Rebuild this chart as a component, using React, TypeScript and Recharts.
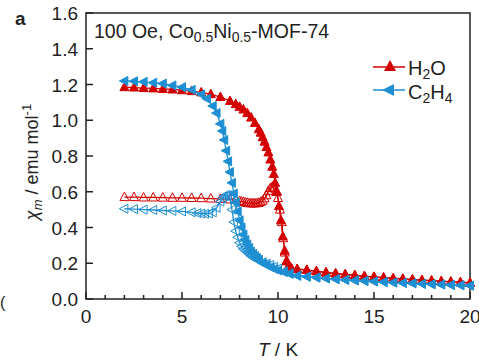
import {
  ComposedChart,
  XAxis,
  YAxis,
  Scatter,
  ReferenceArea,
} from "recharts";

// chart geometry
const W = 479;
const H = 361;
const LEFT = 86;
const TOP = 13;
const RIGHT = 9;
const BOTTOM = 62;
const PLOT_BOTTOM = H - BOTTOM;

const RED = "#d40000";
const BLUE = "#1e8fd2";
const INK = "#222";
const FONT = "'Liberation Sans', Arial, sans-serif";

// tick values
const xTicks = [0, 1, 2, 3, 4, 5, 6, 7, 8, 9, 10, 11, 12, 13, 14, 15, 16, 17, 18, 19, 20];
const yTicks = [0, 0.2, 0.4, 0.6, 0.8, 1.0, 1.2, 1.4, 1.6];

// H2O, filled (FC) : [T, chi]
const h2oFilled: [number, number][] = [
  [2, 1.185], [2.5, 1.183], [3, 1.18], [3.5, 1.178], [4, 1.175], [4.5, 1.172],
  [5, 1.168], [5.5, 1.163], [6, 1.156], [6.5, 1.146], [7, 1.13], [7.5, 1.108],
  [7.8, 1.09], [8.0, 1.075], [8.2, 1.06], [8.4, 1.04], [8.6, 1.015], [8.8, 0.985],
  [9.0, 0.95], [9.1, 0.93], [9.2, 0.905], [9.3, 0.88], [9.4, 0.85], [9.5, 0.82],
  [9.6, 0.78], [9.7, 0.74], [9.78, 0.7], [9.85, 0.65], [9.95, 0.6], [10.05, 0.52],
  [10.15, 0.44], [10.25, 0.35], [10.35, 0.27], [10.45, 0.21], [10.55, 0.18],
  [10.7, 0.17], [11, 0.167], [11.5, 0.162], [12, 0.155], [12.5, 0.148], [13, 0.142],
  [13.5, 0.137], [14, 0.132], [14.5, 0.127], [15, 0.123], [15.5, 0.119], [16, 0.115],
  [16.5, 0.112], [17, 0.108], [17.5, 0.105], [18, 0.102], [18.5, 0.099], [19, 0.096],
  [19.5, 0.093], [20, 0.09],
];

// H2O, open (ZFC)
const h2oOpen: [number, number][] = [
  [2, 0.57], [2.5, 0.57], [3, 0.568], [3.5, 0.568], [4, 0.567], [4.5, 0.566],
  [5, 0.566], [5.5, 0.565], [6, 0.564], [6.5, 0.562], [7, 0.56], [7.5, 0.557],
  [7.8, 0.553], [8.0, 0.548], [8.1, 0.545], [8.2, 0.543], [8.3, 0.54], [8.4, 0.538],
  [8.5, 0.536], [8.6, 0.535], [8.7, 0.535], [8.8, 0.535], [8.9, 0.536], [9.0, 0.538],
  [9.1, 0.543], [9.2, 0.55], [9.3, 0.563], [9.4, 0.58], [9.5, 0.605], [9.6, 0.62],
  [9.7, 0.628], [9.8, 0.62], [9.9, 0.6], [10.0, 0.565], [10.1, 0.5], [10.2, 0.43],
  [10.27, 0.34], [10.35, 0.26], [10.45, 0.215], [10.55, 0.185], [10.7, 0.172],
  [11, 0.168], [11.5, 0.163], [12, 0.156], [12.5, 0.149], [13, 0.143], [13.5, 0.138],
  [14, 0.133], [14.5, 0.128], [15, 0.124], [15.5, 0.12], [16, 0.116], [16.5, 0.113],
  [17, 0.109], [17.5, 0.106], [18, 0.103], [18.5, 0.1], [19, 0.097], [19.5, 0.094],
  [20, 0.091],
];

// C2H4, filled (FC)
const c2h4Filled: [number, number][] = [
  [2, 1.22], [2.5, 1.218], [3, 1.215], [3.5, 1.21], [4, 1.205], [4.5, 1.195],
  [5, 1.185], [5.5, 1.17], [6, 1.145], [6.3, 1.12], [6.6, 1.08], [6.8, 1.04],
  [7.0, 0.98], [7.1, 0.94], [7.2, 0.89], [7.3, 0.83], [7.4, 0.77], [7.5, 0.71],
  [7.6, 0.65], [7.7, 0.59], [7.8, 0.54], [7.9, 0.49], [8.0, 0.44], [8.1, 0.4],
  [8.2, 0.36], [8.3, 0.33], [8.4, 0.305], [8.5, 0.285], [8.6, 0.265], [8.7, 0.252],
  [8.8, 0.24], [8.9, 0.23], [9.0, 0.22], [9.2, 0.2], [9.4, 0.19], [9.6, 0.178],
  [9.8, 0.168], [10.0, 0.16], [10.3, 0.15], [10.6, 0.14], [11, 0.13], [11.5, 0.125],
  [12, 0.12], [12.5, 0.115], [13, 0.111], [13.5, 0.107], [14, 0.104], [14.5, 0.101],
  [15, 0.098], [15.5, 0.095], [16, 0.092], [16.5, 0.09], [17, 0.088], [17.5, 0.085],
  [18, 0.083], [18.5, 0.081], [19, 0.079], [19.5, 0.077], [20, 0.075],
];

// C2H4, open (ZFC)
const c2h4Open: [number, number][] = [
  [2, 0.505], [2.5, 0.503], [3, 0.5], [3.5, 0.498], [4, 0.495], [4.5, 0.493],
  [5, 0.49], [5.5, 0.485], [5.8, 0.48], [6.0, 0.478], [6.2, 0.477], [6.4, 0.478],
  [6.6, 0.485], [6.8, 0.51], [7.0, 0.545], [7.1, 0.562], [7.2, 0.575], [7.3, 0.583],
  [7.4, 0.58], [7.5, 0.565], [7.6, 0.5], [7.7, 0.43], [7.8, 0.38], [7.9, 0.345],
  [8.0, 0.315], [8.1, 0.295], [8.2, 0.28], [8.3, 0.27], [8.4, 0.26], [8.5, 0.25],
  [8.6, 0.24], [8.7, 0.232], [8.8, 0.225], [8.9, 0.22], [9.0, 0.215], [9.2, 0.205],
  [9.4, 0.197], [9.6, 0.19], [9.8, 0.18], [10.0, 0.17], [10.3, 0.155], [10.6, 0.145],
  [11, 0.13], [11.5, 0.125], [12, 0.12], [12.5, 0.115], [13, 0.111], [13.5, 0.107],
  [14, 0.104], [14.5, 0.101], [15, 0.098], [15.5, 0.095], [16, 0.092], [16.5, 0.09],
  [17, 0.088], [17.5, 0.085], [18, 0.083], [18.5, 0.081], [19, 0.079], [19.5, 0.077],
  [20, 0.075],
];

const toPoints = (arr: [number, number][]) => arr.map(([t, v]) => ({ t, v }));

// markers
function TriUp({ cx, cy, color, filled }: any) {
  if (cx == null || cy == null) return null;
  const pts = `${cx},${cy - 5} ${cx - 4.5},${cy + 3.5} ${cx + 4.5},${cy + 3.5}`;
  return (
    <polygon
      points={pts}
      fill={filled ? color : "none"}
      stroke={color}
      strokeWidth={1}
    />
  );
}

function TriLeft({ cx, cy, color, filled }: any) {
  if (cx == null || cy == null) return null;
  const pts = `${cx - 5},${cy} ${cx + 3.5},${cy - 4.5} ${cx + 3.5},${cy + 4.5}`;
  return (
    <polygon
      points={pts}
      fill={filled ? color : "none"}
      stroke={color}
      strokeWidth={1}
    />
  );
}

function XTick({ x, payload }: any) {
  const v = payload.value;
  const major = v % 5 === 0;
  return (
    <g>
      <line
        x1={x}
        x2={x}
        y1={PLOT_BOTTOM}
        y2={PLOT_BOTTOM - (major ? 7 : 4)}
        stroke={INK}
        strokeWidth={1.5}
      />
      {major && (
        <text x={x} y={PLOT_BOTTOM + 24} textAnchor="middle" fontSize={19} fill={INK} fontFamily={FONT}>
          {v}
        </text>
      )}
    </g>
  );
}

function YTick({ y, payload }: any) {
  return (
    <g>
      <line x1={LEFT} x2={LEFT + 7} y1={y} y2={y} stroke={INK} strokeWidth={1.5} />
      <text x={LEFT - 8} y={y + 7} textAnchor="end" fontSize={19} fill={INK} fontFamily={FONT}>
        {payload.value.toFixed(1)}
      </text>
    </g>
  );
}

export default function App() {
  return (
    <div style={{ position: "absolute", left: 0, top: 0, width: W, height: H, background: "#fff" }}>
      <ComposedChart
        width={W}
        height={H}
        margin={{ top: TOP, right: RIGHT, bottom: 0, left: 0 }}
      >
        <XAxis
          type="number"
          dataKey="t"
          domain={[0, 20]}
          ticks={xTicks}
          interval={0}
          height={BOTTOM}
          axisLine={false}
          tickLine={false}
          tick={<XTick />}
        />
        <YAxis
          type="number"
          dataKey="v"
          domain={[0, 1.6]}
          ticks={yTicks}
          interval={0}
          width={LEFT}
          axisLine={false}
          tickLine={false}
          tick={<YTick />}
        />
        <ReferenceArea
          x1={0}
          x2={20}
          y1={0}
          y2={1.6}
          fill="none"
          fillOpacity={0}
          stroke={INK}
          strokeWidth={1.5}
        />
        <Scatter
          data={toPoints(h2oFilled)}
          line={{ stroke: RED, strokeWidth: 1.3 }}
          isAnimationActive={false}
          shape={(p: any) => <TriUp cx={p.cx} cy={p.cy} color={RED} filled />}
        />
        <Scatter
          data={toPoints(h2oOpen)}
          line={{ stroke: RED, strokeWidth: 1.3 }}
          isAnimationActive={false}
          shape={(p: any) => <TriUp cx={p.cx} cy={p.cy} color={RED} filled={false} />}
        />
        <Scatter
          data={toPoints(c2h4Filled)}
          line={{ stroke: BLUE, strokeWidth: 1.3 }}
          isAnimationActive={false}
          shape={(p: any) => <TriLeft cx={p.cx} cy={p.cy} color={BLUE} filled />}
        />
        <Scatter
          data={toPoints(c2h4Open)}
          line={{ stroke: BLUE, strokeWidth: 1.3 }}
          isAnimationActive={false}
          shape={(p: any) => <TriLeft cx={p.cx} cy={p.cy} color={BLUE} filled={false} />}
        />
      </ComposedChart>

      {/* texts and legend */}
      <svg
        width={W}
        height={H}
        style={{ position: "absolute", left: 0, top: 0, pointerEvents: "none" }}
        fontFamily={FONT}
      >
        <text x={15} y={25} fontSize={19} fontWeight="bold" fill={INK}>a</text>
        <text x={0} y={308} fontSize={16} fill={INK}>(</text>

        <text x={94} y={38} fontSize={19.5} fill={INK}>
          100 Oe, Co
          <tspan fontSize={14} dy={4}>0.5</tspan>
          <tspan dy={-4}>Ni</tspan>
          <tspan fontSize={14} dy={4}>0.5</tspan>
          <tspan dy={-4}>-MOF-74</tspan>
        </text>

        {/* legend */}
        <line x1={373} x2={405} y1={67} y2={67} stroke={RED} strokeWidth={1.5} />
        <polygon points="390,60 384,71 396,71" fill={RED} />
        <text x={408} y={75} fontSize={20} fill={INK}>
          H<tspan fontSize={14} dy={4}>2</tspan>
          <tspan dy={-4}>O</tspan>
        </text>
        <line x1={373} x2={405} y1={90} y2={90} stroke={BLUE} strokeWidth={1.5} />
        <polygon points="382,90 394,84 394,96" fill={BLUE} />
        <text x={408} y={99} fontSize={20} fill={INK}>
          C<tspan fontSize={14} dy={4}>2</tspan>
          <tspan dy={-4}>H</tspan>
          <tspan fontSize={14} dy={4}>4</tspan>
        </text>

        {/* axis titles */}
        <text x={278} y={356} textAnchor="middle" fontSize={19} fill={INK}>
          <tspan fontStyle="italic">T</tspan> / K
        </text>
        <text
          x={38}
          y={162}
          textAnchor="middle"
          fontSize={18}
          fill={INK}
          transform="rotate(-90 38 162)"
        >
          <tspan fontStyle="italic">χ</tspan>
          <tspan fontStyle="italic" fontSize={13} dy={4}>m</tspan>
          <tspan dy={-4}> / emu mol</tspan>
          <tspan fontSize={13} dy={-7}>-1</tspan>
        </text>
      </svg>
    </div>
  );
}
